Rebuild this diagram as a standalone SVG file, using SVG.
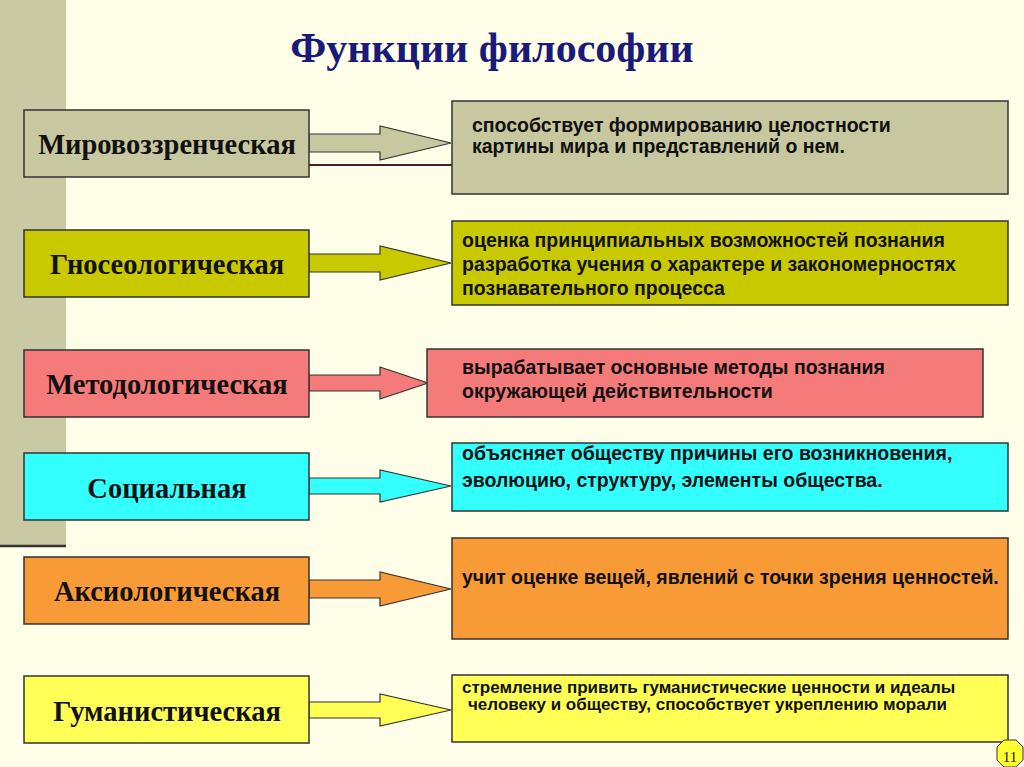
<svg xmlns="http://www.w3.org/2000/svg" width="1024" height="767" viewBox="0 0 1024 767">
<style>
.n{stroke:#333;stroke-width:1.5}
.l{font-family:"Liberation Serif",serif;font-weight:bold;font-size:28.5px;text-anchor:middle;fill:#111}
.d{font-family:"Liberation Sans",sans-serif;font-weight:bold;font-size:19.5px;fill:#111}
.s{font-family:"Liberation Sans",sans-serif;font-weight:bold;font-size:17px;fill:#111}
.a{stroke:#333;stroke-width:1.2}
</style>
<rect width="1024" height="767" fill="#FFFFE9"/>
<rect x="0" y="0" width="66" height="545" fill="#C9C9A3"/>
<line x1="0" y1="546" x2="66" y2="546" stroke="#333" stroke-width="2.5"/>
<text x="492" y="62" font-family="Liberation Serif,serif" font-weight="bold" font-size="42" fill="#1a1a7a" text-anchor="middle">Функции философии</text>
<g id="connectors">
<polygon class="a" fill="#C8C8A0" points="309,134 380,134 380,126 451,143 380,160 380,152 309,152"/>
<line x1="309" y1="165" x2="452" y2="165" stroke="#4a1a2a" stroke-width="2"/>
<polygon class="a" fill="#C9C900" points="309,254 380,254 380,246 451,263 380,280 380,272 309,272"/>
<polygon class="a" fill="#F57A7A" points="309,375 380,375 380,367 428,383 380,399 380,391 309,391"/>
<polygon class="a" fill="#33FFFF" points="309,478 380,478 380,470 451,486 380,502 380,494 309,494"/>
<polygon class="a" fill="#F89A36" points="309,580 380,580 380,572 451,589 380,606 380,598 309,598"/>
<polygon class="a" fill="#FFFF55" points="309,702 380,702 380,694 451,710 380,726 380,718 309,718"/>
</g>
<g id="n1"><rect class="n" x="24" y="110" width="285" height="67" fill="#C8C8A0"/><text class="l" x="167" y="154">Мировоззренческая</text></g>
<g id="d1"><rect class="n" x="452" y="101" width="556" height="93" fill="#C8C8A0"/><text class="d" x="472" y="132">способствует формированию целостности</text><text class="d" x="472" y="153">картины мира и представлений о нем.</text></g>
<g id="n2"><rect class="n" x="24" y="230" width="285" height="67" fill="#C9C900"/><text class="l" x="167" y="274">Гносеологическая</text></g>
<g id="d2"><rect class="n" x="452" y="221" width="556" height="84" fill="#C9C900"/><text class="d" x="462" y="247">оценка принципиальных возможностей познания</text><text class="d" x="462" y="271">разработка учения о характере и закономерностях</text><text class="d" x="462" y="295">познавательного процесса</text></g>
<g id="n3"><rect class="n" x="24" y="350" width="285" height="67" fill="#F57A7A"/><text class="l" x="167" y="394">Методологическая</text></g>
<g id="d3"><rect class="n" x="427" y="349" width="556" height="68" fill="#F57A7A"/><text class="d" x="462" y="374">вырабатывает основные методы познания</text><text class="d" x="462" y="398">окружающей действительности</text></g>
<g id="n4"><rect class="n" x="24" y="453" width="285" height="67" fill="#33FFFF"/><text class="l" x="167" y="498">Социальная</text></g>
<g id="d4"><rect class="n" x="452" y="443" width="556" height="68" fill="#33FFFF"/><text class="d" x="462" y="460">объясняет обществу причины его возникновения,</text><text class="d" x="462" y="487">эволюцию, структуру, элементы общества.</text></g>
<g id="n5"><rect class="n" x="24" y="557" width="285" height="67" fill="#F89A36"/><text class="l" x="167" y="601">Аксиологическая</text></g>
<g id="d5"><rect class="n" x="452" y="538" width="556" height="101" fill="#F89A36"/><text class="d" x="462" y="584">учит оценке вещей, явлений с точки зрения ценностей.</text></g>
<g id="n6"><rect class="n" x="24" y="676" width="285" height="67" fill="#FFFF55"/><text class="l" x="167" y="721">Гуманистическая</text></g>
<g id="d6"><rect class="n" x="452" y="675" width="556" height="67" fill="#FFFF55"/><text class="s" x="462" y="693">стремление привить гуманистические ценности и идеалы</text><text class="s" x="468" y="710">человеку и обществу, способствует укреплению морали</text></g>
<g id="page"><polygon points="1004,740 1016,740 1023,747 1023,760 1016,767 1004,767 997,760 997,747" fill="#FFFF33" stroke="#333" stroke-width="1"/><text x="1010" y="762" font-family="Liberation Serif,serif" font-size="15" text-anchor="middle" fill="#222">11</text></g>
</svg>
